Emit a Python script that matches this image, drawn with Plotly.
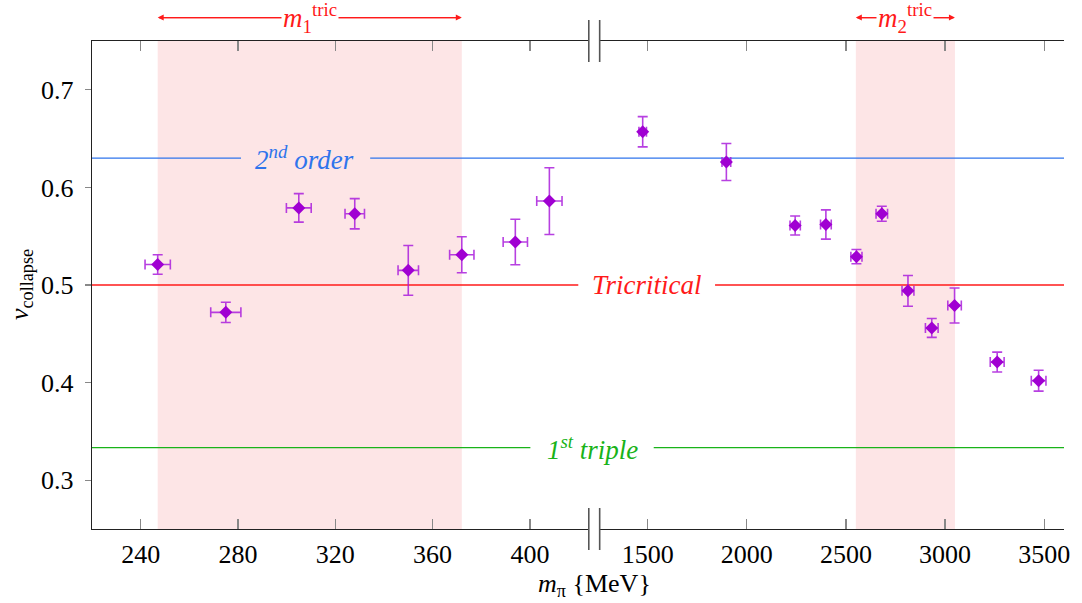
import plotly.graph_objects as go

# ---- data ----
m_left = [247, 275, 305, 328, 350, 372, 394, 408]
nu_left = [0.521, 0.472, 0.579, 0.573, 0.515, 0.531, 0.544, 0.586]
nu_err_left = [0.010, 0.0104, 0.0146, 0.0155, 0.0255, 0.0184, 0.0233, 0.0342]
m_err_left = [5.2, 6.2, 5.1, 4.0, 4.2, 5.0, 5.0, 5.2]

m_right = [1475, 1897, 2244, 2399, 2553, 2681, 2813, 2933, 3048, 3263, 3472]
nu_right = [0.657, 0.626, 0.561, 0.562, 0.529, 0.573, 0.494, 0.456, 0.479, 0.421, 0.402]
nu_err_right = [0.0155, 0.019, 0.0097, 0.015, 0.0073, 0.0077, 0.0157, 0.0097, 0.0179, 0.0102, 0.0107]
m_err_right = [19, 22, 26, 27, 28, 29, 30, 32, 34, 35, 37]

tric1_range = [247, 372]
tric2_range = [2550, 3050]

nu_second_order = 0.63
nu_tricritical = 0.5
nu_first_triple = 1 / 3

ticks_left = [240, 280, 320, 360, 400]
ticks_right = [1500, 2000, 2500, 3000, 3500]
ticks_y = [0.3, 0.4, 0.5, 0.6, 0.7]
ticktext_y = ["0.3", "0.4", "0.5", "0.6", "0.7"]

# ---- style ----
FONT = "Liberation Serif"
FS = 26
FSL = 27
MARK = "rgb(160,0,210)"
ERR = "rgba(170,30,220,0.85)"
PINK = "#fde5e6"
BLUE = "#2f74ec"
RED = "#ff1a1a"
GREEN = "#19b319"
AXC = "#222222"
TICKC = "#888888"

D1 = 0.5111
D2 = 0.5223

fig = go.Figure()

def add_series(x, y, ex, ey, xa):
    fig.add_trace(go.Scatter(
        x=x, y=y, mode="markers", xaxis=xa, yaxis="y",
        marker=dict(symbol="diamond", size=10, color=MARK),
        error_y=dict(type="data", array=ey, color=ERR, thickness=1.6, width=5),
        error_x=dict(type="data", array=ex, color=ERR, thickness=1.6, width=5),
        showlegend=False, hoverinfo="skip"))

add_series(m_left, nu_left, m_err_left, nu_err_left, "x")
add_series(m_right, nu_right, m_err_right, nu_err_right, "x2")

shapes = []
shapes.append(dict(type="rect", xref="x", yref="paper", x0=tric1_range[0], x1=tric1_range[1],
                   y0=0, y1=1, fillcolor=PINK, line=dict(width=0), layer="below"))
shapes.append(dict(type="rect", xref="x2", yref="paper", x0=tric2_range[0], x1=tric2_range[1],
                   y0=0, y1=1, fillcolor=PINK, line=dict(width=0), layer="below"))

def hline(yv, color, gap):
    for a, b in [(0, gap[0]), (gap[1], 1)]:
        shapes.append(dict(type="line", xref="paper", yref="y", x0=a, x1=b, y0=yv, y1=yv,
                           line=dict(color=color, width=1.3), layer="below"))

hline(nu_second_order, BLUE, (0.1533, 0.2862))
hline(nu_tricritical, RED, (0.5003, 0.641))
hline(nu_first_triple, GREEN, (0.451, 0.5779))

for xb in (D1, D2):
    for y0, y1 in [(-0.043, 0.043), (0.957, 1.043)]:
        shapes.append(dict(type="line", xref="paper", yref="paper", x0=xb, x1=xb, y0=y0, y1=y1,
                           line=dict(color="#555555", width=1.6)))

annotations = [
    dict(xref="paper", yref="y", x=0.219, y=nu_second_order, text="<i>2<sup>nd</sup> order</i>",
         xanchor="center", yanchor="middle", showarrow=False,
         font=dict(family=FONT, size=FSL, color=BLUE)),
    dict(xref="paper", yref="y", x=0.571, y=nu_tricritical, text="<i>Tricritical</i>",
         xanchor="center", yanchor="middle", showarrow=False,
         font=dict(family=FONT, size=FSL, color=RED)),
    dict(xref="paper", yref="y", x=0.5145, y=nu_first_triple, text="<i>1<sup>st</sup> triple</i>",
         xanchor="center", yanchor="middle", showarrow=False,
         font=dict(family=FONT, size=FSL, color=GREEN)),
    dict(xref="paper", yref="paper", x=0.5165, y=-0.115, text="<i>m</i><sub>π</sub> {MeV}",
         xanchor="center", yanchor="middle", showarrow=False,
         font=dict(family=FONT, size=FS, color="black")),
    dict(xref="paper", yref="paper", x=-0.073, y=0.5, text="<i>ν</i><sub>collapse</sub>",
         xanchor="center", yanchor="middle", textangle=-90, showarrow=False,
         font=dict(family=FONT, size=FS, color="black")),
]

YA = 1.048
for xa, rng in [("x", tric1_range), ("x2", tric2_range)]:
    annotations.append(dict(xref=xa, yref="paper", x=rng[1], y=YA, ax=rng[0], ay=0,
                            axref=xa, ayref="pixel", showarrow=True, arrowhead=2, arrowsize=1,
                            arrowwidth=1.2, arrowcolor=RED, text=""))
    annotations.append(dict(xref=xa, yref="paper", x=rng[0], y=YA, ax=rng[1], ay=0,
                            axref=xa, ayref="pixel", showarrow=True, arrowhead=2, arrowsize=1,
                            arrowwidth=1.2, arrowcolor=RED, text=""))

for xa, rng, idx in [("x", tric1_range, "1"), ("x2", tric2_range, "2")]:
    annotations.append(dict(xref=xa, yref="paper", x=sum(rng) / 2, y=YA,
                            xanchor="center", yanchor="middle",
                            text="<i>m</i><sub>" + idx + "</sub><sup>tric</sup>", showarrow=False,
                            bgcolor="white", font=dict(family=FONT, size=FSL, color=RED)))

xcommon = dict(showline=True, linecolor=AXC, linewidth=1.3, mirror="ticks", ticks="inside",
               ticklen=10, tickcolor=TICKC, tickwidth=1.3, showgrid=False, zeroline=False,
               tickfont=dict(family=FONT, size=FS, color="black"), ticklabelstandoff=1,
               ticklabeloverflow="allow")

ycommon = dict(range=[0.25, 0.75], showgrid=False, zeroline=False, tickvals=ticks_y,
               tickcolor=TICKC, tickwidth=1.3, ticklen=6)

fig.update_layout(
    width=1082, height=603,
    margin=dict(l=92, r=12, t=40.5, b=74, pad=0),
    plot_bgcolor="white", paper_bgcolor="white",
    shapes=shapes, annotations=annotations,
    xaxis=dict(domain=[0, D1], range=[220, 424.2], tickvals=ticks_left, anchor="y", **xcommon),
    xaxis2=dict(domain=[D2, 1], range=[1258, 3600], tickvals=ticks_right, anchor="y", **xcommon),
    yaxis=dict(anchor="x", side="left", ticks="outside", ticktext=ticktext_y,
               showline=True, linecolor=AXC, linewidth=1.3,
               tickfont=dict(family=FONT, size=FS, color="black"), ticklabelstandoff=6, **ycommon),
    yaxis3=dict(anchor="x", side="left", overlaying="y", ticks="inside", showticklabels=False,
                showline=False, **ycommon),
    yaxis2=dict(anchor="x2", side="right", overlaying="y", ticks="inside", showticklabels=False,
                showline=True, linecolor=AXC, linewidth=1.3, **ycommon),
    yaxis4=dict(anchor="x2", side="right", overlaying="y", ticks="outside", showticklabels=False,
                showline=False, **ycommon),
)

POST = (
    "document.documentElement.style.margin='0';"
    "document.documentElement.style.overflow='hidden';"
    "document.body.style.margin='0';"
    "document.body.style.overflow='hidden';"
    "var gd=document.getElementById('{plot_id}');"
    "Plotly.relayout(gd,{width:1082,height:603});"
)

fig.write_html(
    "out.html",
    config={"displayModeBar": False, "staticPlot": True, "responsive": False},
    post_script=POST,
)
